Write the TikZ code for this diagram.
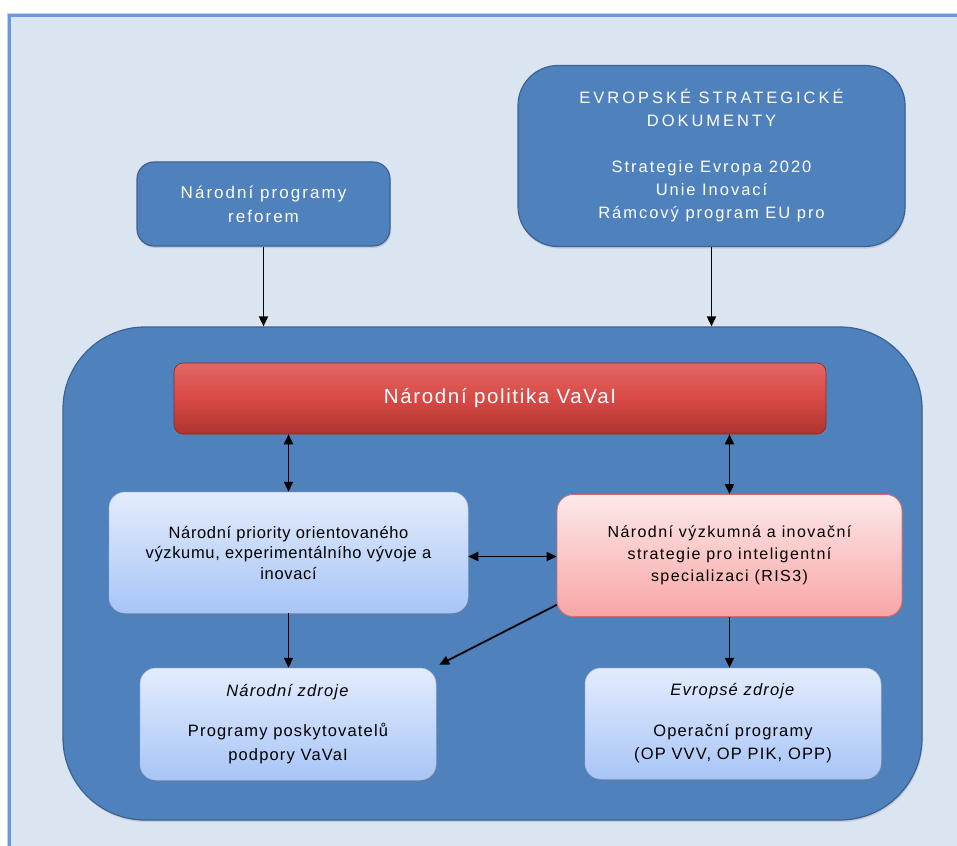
\documentclass[tikz,border=0pt]{standalone}
\usepackage{fontspec}
\setmainfont{Liberation Sans}
\usetikzlibrary{arrows.meta,shadows}

% letter-spaced text in a given size: \spaced{spacing}{size}{leading}
\newcommand\spaced[3]{\addfontfeatures{LetterSpace=#1}\fontsize{#2}{#3}\selectfont}

\definecolor{pagebg}{HTML}{DBE5F1}
\definecolor{pageline}{HTML}{6A98DA}
\definecolor{steel}{HTML}{4F81BD}
\definecolor{steeldark}{HTML}{3A6393}
\definecolor{redtop}{HTML}{DC4C48}
\definecolor{redbot}{HTML}{AD3330}
\definecolor{lbtop}{HTML}{E3ECFC}
\definecolor{lbbot}{HTML}{A8C5F7}
\definecolor{pktop}{HTML}{FDE9E9}
\definecolor{pkbot}{HTML}{F9A5A5}
\definecolor{pkline}{HTML}{D9696A}

\tikzset{
  steelbox/.style={draw=steeldark, line width=1.2pt, fill=steel, text=white,
    align=center, inner sep=0pt,
    drop shadow={opacity=0.25, shadow xshift=1pt, shadow yshift=-2pt}},
  redbar/.style={draw=redbot!80!black, line width=0.6pt, top color=redtop!85!white, bottom color=redbot,
    middle color=redtop!92!redbot, rounded corners=9pt, text=white, inner sep=0pt,
    drop shadow={opacity=0.35, shadow xshift=1pt, shadow yshift=-2pt}},
  paleblue/.style={draw=lbtop!60!steel, line width=0.5pt, top color=lbtop, bottom color=lbbot,
    rounded corners=16pt, align=center, inner sep=0pt, text=black,
    drop shadow={opacity=0.3, shadow xshift=1pt, shadow yshift=-2pt}},
  palered/.style={draw=pkline, line width=0.8pt, top color=pktop, bottom color=pkbot,
    rounded corners=16pt, align=center, inner sep=0pt, text=black,
    drop shadow={opacity=0.3, shadow xshift=1pt, shadow yshift=-2pt}},
  link/.style={line width=1.8pt, black, -{Triangle[length=10pt,width=9pt]}},
  twoway/.style={line width=1.8pt, black, {Triangle[length=10pt,width=9pt]}-{Triangle[length=10pt,width=9pt]}},
}

\begin{document}
\begin{tikzpicture}[x=1pt,y=-1pt]
\useasboundingbox (0,0) rectangle (957,845);
\fill[white] (0,0) rectangle (957,845);

% page frame
\draw[pageline!45, line width=4.5pt] (9.5,15.5) rectangle (980,870);
\draw[pageline, fill=pagebg, line width=2.2pt] (9.5,15.5) rectangle (980,870);

% top inputs
\node[steelbox, rounded corners=17pt, minimum width=253pt, minimum height=84pt,
      font=\spaced{12}{17}{24}]
  (reforms) at (263.5,204) {Národní programy\\reforem};

\node[steelbox, rounded corners=40pt, minimum width=387pt, minimum height=181pt,
      font=\spaced{12}{16.5}{23}]
  (eudocs) at (711.5,156)
  {{\addfontfeatures{LetterSpace=18}EVROPSKÉ STRATEGICKÉ}\\
   {\addfontfeatures{LetterSpace=18}DOKUMENTY}\\[23pt]
   Strategie Evropa 2020\\Unie Inovací\\Rámcový program EU pro};

% main container
\node[steelbox, rounded corners=82pt, minimum width=859pt, minimum height=493pt]
  (policy) at (492.5,573.5) {};

% national policy bar
\node[redbar, minimum width=652pt, minimum height=71pt,
      font=\spaced{8}{20.5}{24}]
  (vavai) at (500,398.5) {Národní politika VaVaI};

% priorities and RIS3
\node[paleblue, minimum width=359pt, minimum height=121pt,
      font=\spaced{4}{16.5}{20.5}]
  (priorities) at (288.5,552.5) {Národní priority orientovaného\\výzkumu, experimentálního vývoje a\\inovací};

\node[palered, minimum width=345pt, minimum height=122pt,
      font=\spaced{9}{16}{22}]
  (ris) at (729.5,555.5) {Národní výzkumná a inovační\\strategie pro inteligentní\\specializaci (RIS3)};

% funding sources
\node[paleblue, minimum width=296pt, minimum height=112pt,
      font=\spaced{7}{16.5}{23.5}]
  (natsrc) at (288,724) {\textit{Národní zdroje}\\[17pt]Programy poskytovatelů\\podpory VaVaI};

\node[paleblue, minimum width=296pt, minimum height=111pt,
      font=\spaced{7}{16.5}{23}]
  (eusrc) at (733,723.5) {\textit{Evropsé zdroje}\\[18pt]Operační programy\\(OP VVV, OP PIK, OPP)};

% connectors
\draw[link] (reforms.south) -- (reforms.south |- policy.north);
\draw[link] (eudocs.south) -- (eudocs.south |- policy.north);
\draw[twoway] (priorities.north |- vavai.south) -- (priorities.north);
\draw[twoway] (ris.north |- vavai.south) -- (ris.north);
\draw[twoway] ([yshift=-4pt]priorities.east) -- ([yshift=-4pt]priorities.east -| ris.west);
\draw[link] (priorities.south) -- (priorities.south |- natsrc.north);
\draw[link] (ris.south) -- (ris.south |- eusrc.north);
\coordinate (rislow) at ([yshift=12pt]ris.south west);
\coordinate (natcorner) at ([xshift=3pt,yshift=3pt]natsrc.north east);
\draw[link] (rislow) -- (natcorner);
\end{tikzpicture}
\end{document}
